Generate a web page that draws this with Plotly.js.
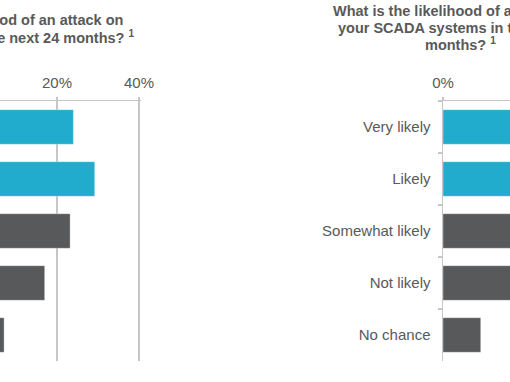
<!DOCTYPE html>
<html>
<head>
<meta charset="utf-8">
<script src="https://cdn.plot.ly/plotly-3.0.1.min.js"></script>
<style>
html,body{margin:0;padding:0;background:#fff;overflow:hidden;}
#chart{width:510px;height:382px;}
</style>
</head>
<body>
<div id="chart"></div>
<script>
// ---- data ----
const categories = ['Very likely', 'Likely', 'Somewhat likely', 'Not likely', 'No chance'];
const leftValues = [24.0, 29.2, 23.2, 17.0, 7.1];
const rightValues = [22.0, 27.0, 24.0, 19.0, 9.2];
const tickValues = [0, 20, 40];
const tickLabels = ['0%', '20%', '40%'];
const leftTitleLines = ['What is the likelihood of an attack on', 'your SCADA systems in the next 24 months? <sup>1</sup>'];
const rightTitleLines = ['What is the likelihood of an attack on', 'your SCADA systems in the next 24', 'months? <sup>1</sup>'];

// ---- styles ----
const barColors = ['#21accd', '#21accd', '#58595b', '#58595b', '#58595b'];
const W = 510, H = 382;
const FONT = '"Liberation Sans", Arial, sans-serif';
const TXT = '#595959';
const GRID = '#c6c6c6';
const SCALE = 4.1; // px per percent
const px = v => v / W;
const py = v => 1 - v / H;

const barCommon = {
  type: 'bar', orientation: 'h', y: categories,
  marker: {color: barColors, line: {color: 'rgba(255,255,255,0.35)', width: 1}},
  hoverinfo: 'skip', showlegend: false
};
const traces = [
  Object.assign({}, barCommon, {x: leftValues, xaxis: 'x', yaxis: 'y'}),
  Object.assign({}, barCommon, {x: rightValues, xaxis: 'x2', yaxis: 'y2'})
];

const yTop = 101, yBot = 361;
const xAxisCommon = {
  side: 'top', tickmode: 'array', tickvals: tickValues, ticktext: tickLabels,
  showgrid: true, gridcolor: GRID, gridwidth: 1.5, zeroline: false,
  showline: true, linecolor: GRID, linewidth: 1.5,
  ticks: 'outside', ticklen: 3, tickcolor: GRID, tickwidth: 1.5,
  ticklabelstandoff: 3,
  tickfont: {family: FONT, size: 15, color: TXT}, fixedrange: true
};

const annotations = [];
const leftEnds = [125, 137];
const leftMid = [20, 36.5];
leftTitleLines.forEach((t, i) => annotations.push({
  xref: 'paper', yref: 'paper', x: px(leftEnds[i]), y: py(leftMid[i]),
  xanchor: 'right', yanchor: 'middle', showarrow: false, text: '<b>' + t + '</b>',
  font: {family: FONT, size: 14.5, color: TXT}
}));
const rightMid = [11, 27.5, 44];
rightTitleLines.forEach((t, i) => annotations.push({
  xref: 'paper', yref: 'paper', x: px(460), y: py(rightMid[i]),
  xanchor: 'center', yanchor: 'middle', showarrow: false, text: '<b>' + t + '</b>',
  font: {family: FONT, size: 14.5, color: TXT}
}));

const leftRangeEnd = 40.6;
const leftMin = 40 - 139 / SCALE;
const leftDomainEnd = (leftRangeEnd - leftMin) * SCALE;

const layout = {
  width: W, height: H,
  margin: {l: 0, r: 0, t: 0, b: 0, pad: 0},
  paper_bgcolor: '#ffffff', plot_bgcolor: 'rgba(0,0,0,0)',
  font: {family: FONT, color: TXT},
  bargap: 0.335,
  showlegend: false,
  xaxis: Object.assign({}, xAxisCommon, {domain: [0, px(leftDomainEnd)], range: [leftMin, leftRangeEnd], anchor: 'y'}),
  yaxis: {domain: [py(yBot), py(yTop)], autorange: 'reversed', showticklabels: false,
          showline: false, ticks: '', showgrid: false, zeroline: false, anchor: 'x', fixedrange: true},
  xaxis2: Object.assign({}, xAxisCommon, {domain: [px(443), 1], range: [0, (W - 443) / SCALE], anchor: 'y2'}),
  yaxis2: {domain: [py(yBot), py(yTop)], autorange: 'reversed', anchor: 'x2',
           showline: true, linecolor: GRID, linewidth: 1.5, showgrid: false, zeroline: false,
           ticks: 'outside', tickson: 'boundaries', ticklen: 4, tickcolor: GRID, tickwidth: 1.5,
           ticklabelstandoff: 8,
           tickfont: {family: FONT, size: 15, color: TXT}, fixedrange: true},
  annotations: annotations
};

Plotly.newPlot('chart', traces, layout, {staticPlot: true, displayModeBar: false});
</script>
</body>
</html>
